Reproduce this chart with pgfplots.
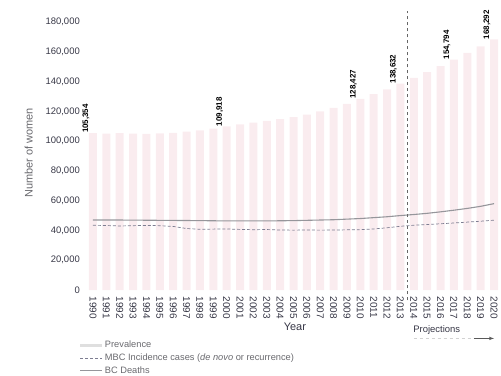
\documentclass[border=0pt]{standalone}
\usepackage{pgfplots}
\pgfplotsset{compat=1.18}
\usepackage{fontspec}
\setmainfont{Liberation Sans}
\definecolor{barcol}{RGB}{250,236,239}
\definecolor{deathcol}{RGB}{150,150,155}
\definecolor{mbccol}{RGB}{125,125,145}
\definecolor{txtcol}{RGB}{55,55,70}
\definecolor{legcol}{RGB}{105,105,110}
\begin{document}
\begin{tikzpicture}[x=1bp,y=1bp]
\path[use as bounding box] (0,0) rectangle (501,375);
\begin{axis}[
  at={(86.3bp,85bp)}, anchor=south west,
  scale only axis, width=414.4bp, height=268bp,
  xmin=1989.5, xmax=2020.5, ymin=0, ymax=180000,
  clip=false,
  axis line style={draw=none},
  major tick length=0pt,
  scaled y ticks=false,
  xtick={1990,...,2020},
  xticklabels={1990,1991,1992,1993,1994,1995,1996,1997,1998,1999,2000,2001,2002,2003,2004,2005,2006,2007,2008,2009,2010,2011,2012,2013,2014,2015,2016,2017,2018,2019,2020},
  ytick={0,20000,40000,60000,80000,100000,120000,140000,160000,180000},
  yticklabels={0,{20,000},{40,000},{60,000},{80,000},{100,000},{120,000},{140,000},{160,000},{180,000}},
  y tick label style={font=\fontsize{9.5}{10}\selectfont, text=txtcol, xshift=-3bp},
  x tick label style={rotate=-90, anchor=west, font=\fontsize{10}{11}\selectfont, text=txtcol, xshift=3bp},
  legend style={at={(axis description cs:-0.016,-0.183)}, anchor=north west, draw=none, fill=none,
    font=\fontsize{9.3}{10}\selectfont, text=legcol, row sep=0.5bp, inner sep=0pt,
    cells={anchor=west, xshift=4bp}},
  legend image code/.code={\draw[#1] (0bp,0bp) -- (22bp,0bp);},
]
% Prevalence bars
\addplot[ybar, bar width=8bp, fill=barcol, draw=none,
  legend image code/.code={\fill[gray!25] (0bp,-1.8bp) rectangle (22bp,1.8bp);}]
  coordinates {
  (1990,105354) (1991,105000) (1992,105300) (1993,105100) (1994,104900)
  (1995,105200) (1996,105600) (1997,106300) (1998,107200) (1999,108400)
  (2000,109918) (2001,111300) (2002,112500) (2003,113600) (2004,114800)
  (2005,116100) (2006,117800) (2007,119900) (2008,122300) (2009,125000)
  (2010,128427) (2011,131500) (2012,134800) (2013,138632) (2014,142500)
  (2015,146300) (2016,150400) (2017,154794) (2018,159200) (2019,163600)
  (2020,168292)};
\addlegendentry{Prevalence}
% MBC incidence
\addplot[mbccol, densely dashed, line width=0.7bp] coordinates {
  (1990,43500) (1991,43300) (1992,43000) (1993,43200) (1994,43400)
  (1995,43200) (1996,42700) (1997,41300) (1998,40800) (1999,40900)
  (2000,41000) (2001,40700) (2002,40500) (2003,40600) (2004,40300)
  (2005,40200) (2006,40300) (2007,40200) (2008,40300) (2009,40400)
  (2010,40500) (2011,41000) (2012,41800) (2013,42800) (2014,43500)
  (2015,44000) (2016,44500) (2017,45000) (2018,45600) (2019,46200)
  (2020,46900)};
\addlegendentry{MBC Incidence cases (\textit{de novo} or recurrence)}
% BC deaths
\addplot[deathcol, line width=1.1bp] coordinates {
  (1990,47000) (1992,47000) (1995,46800) (1998,46600) (2000,46400)
  (2003,46400) (2005,46600) (2008,47200) (2010,48000) (2012,49200)
  (2013,50000) (2014,50700) (2015,51500) (2016,52500) (2017,53600)
  (2018,54800) (2019,56200) (2020,58000)};
\addlegendentry{BC Deaths}
% value labels
\addplot[draw=none, forget plot, nodes near coords, point meta=explicit symbolic,
  nodes near coords style={rotate=90, anchor=west, inner sep=0pt,
    font=\bfseries\fontsize{8}{9}\selectfont, text=black},
  every node near coord/.append style={yshift=7bp}]
  coordinates {
  (1990,105354) [{105,354}]
  (2000,109918) [{109,918}]
  (2010,128427) [{128,427}]
  (2013,138632) [{138,632}]
  (2017,154794) [{154,794}]
  (2020,168292) [{168,292}]};
% start of projections
\addplot[forget plot, gray!80!black, dashed, line width=0.6bp] coordinates {(2013.5,-7000) (2013.5,189500)};
\node[font=\fontsize{11}{12}\selectfont, text=txtcol] at (axis cs:2005.1,-24800) {Year};
\node[rotate=90, font=\fontsize{11}{12}\selectfont, text=legcol] at (axis cs:1985.2,92000) {Number of women};
\node[anchor=west, font=\fontsize{9.5}{10}\selectfont, text=txtcol, inner sep=0pt] at (axis cs:2013.95,-27000) {Projections};
\draw[gray!35, dashed, line width=1.5bp] (axis cs:2014,-32500) -- (axis cs:2018.5,-32500);
\draw[gray!70!black, line width=0.6bp, -latex] (axis cs:2018.5,-32500) -- (axis cs:2020,-32500);
\end{axis}
\end{tikzpicture}
\end{document}
